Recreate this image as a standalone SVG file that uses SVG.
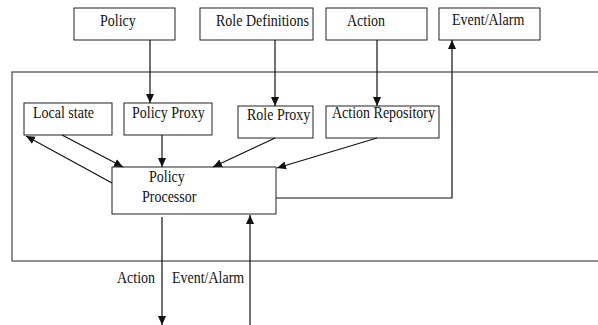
<svg xmlns="http://www.w3.org/2000/svg" width="598" height="325" viewBox="0 0 598 325">
<style>
.box{fill:#fff;stroke:#222;stroke-width:1}
.outer{fill:none;stroke:#555;stroke-width:1.3}
.c{fill:none;stroke:#111;stroke-width:1.2}
text{font-family:"Liberation Serif","Times New Roman",serif;font-size:14px;fill:#111}
</style>
<defs>
<marker id="ah" viewBox="0 0 10 10" refX="10" refY="5" markerWidth="9" markerHeight="9" markerUnits="userSpaceOnUse" orient="auto">
<path d="M0,0.5 L10,5 L0,9.5 z" fill="#111"/>
</marker>
</defs>
<rect width="598" height="325" fill="#fff"/>
<rect class="outer" x="12" y="72" width="600" height="189"/>
<g id="policy"><rect class="box" x="74" y="8" width="101" height="32"/><text x="100" y="26" transform="matrix(1,0,0,1.2,0,-5.2)">Policy</text></g>
<g id="roledefs"><rect class="box" x="200" y="8" width="113" height="32"/><text x="216" y="26" transform="matrix(1,0,0,1.2,0,-5.2)">Role Definitions</text></g>
<g id="action"><rect class="box" x="326" y="8" width="101" height="32"/><text x="347" y="26" transform="matrix(1,0,0,1.2,0,-5.2)">Action</text></g>
<g id="eventalarm"><rect class="box" x="439" y="8" width="101" height="32"/><text x="452" y="25" transform="matrix(1,0,0,1.2,0,-5)">Event/Alarm</text></g>
<g id="localstate"><rect class="box" x="24" y="103" width="88" height="32"/><text x="33" y="118" transform="matrix(1,0,0,1.2,0,-23.6)">Local state</text></g>
<g id="policyproxy"><rect class="box" x="124" y="103" width="88" height="32"/><text x="132" y="118" transform="matrix(1,0,0,1.2,0,-23.6)">Policy Proxy</text></g>
<g id="roleproxy"><rect class="box" x="238" y="106" width="75" height="32"/><text x="247" y="120" transform="matrix(1,0,0,1.2,0,-24)">Role Proxy</text></g>
<g id="actionrepo"><rect class="box" x="326" y="106" width="113" height="32"/><text x="332" y="118" transform="matrix(1,0,0,1.2,0,-23.6)">Action Repository</text></g>
<g id="processor"><rect class="box" x="112" y="167" width="164" height="47"/><text x="149" y="182" transform="matrix(1,0,0,1.2,0,-36.4)">Policy</text><text x="142" y="202" transform="matrix(1,0,0,1.2,0,-40.4)">Processor</text></g>
<g id="connectors">
<line class="c" x1="150" y1="40" x2="150" y2="103" marker-end="url(#ah)"/>
<line class="c" x1="275" y1="40" x2="275" y2="106" marker-end="url(#ah)"/>
<line class="c" x1="377" y1="40" x2="377" y2="106" marker-end="url(#ah)"/>
<polyline class="c" points="276,198 452,198 452,40" marker-end="url(#ah)"/>
<line class="c" x1="62" y1="135" x2="123" y2="167" marker-end="url(#ah)"/>
<line class="c" x1="162" y1="135" x2="162" y2="167" marker-end="url(#ah)"/>
<line class="c" x1="275" y1="138" x2="213" y2="167" marker-end="url(#ah)"/>
<line class="c" x1="377" y1="138" x2="277" y2="168" marker-end="url(#ah)"/>
<line class="c" x1="112" y1="183" x2="26" y2="136" marker-end="url(#ah)"/>
<line class="c" x1="162" y1="217" x2="162" y2="325" marker-end="url(#ah)"/>
<line class="c" x1="250" y1="325" x2="250" y2="215" marker-end="url(#ah)"/>
<text x="117" y="283" transform="matrix(1,0,0,1.2,0,-56.6)">Action</text>
<text x="172" y="283" transform="matrix(1,0,0,1.2,0,-56.6)">Event/Alarm</text>
</g>
</svg>
